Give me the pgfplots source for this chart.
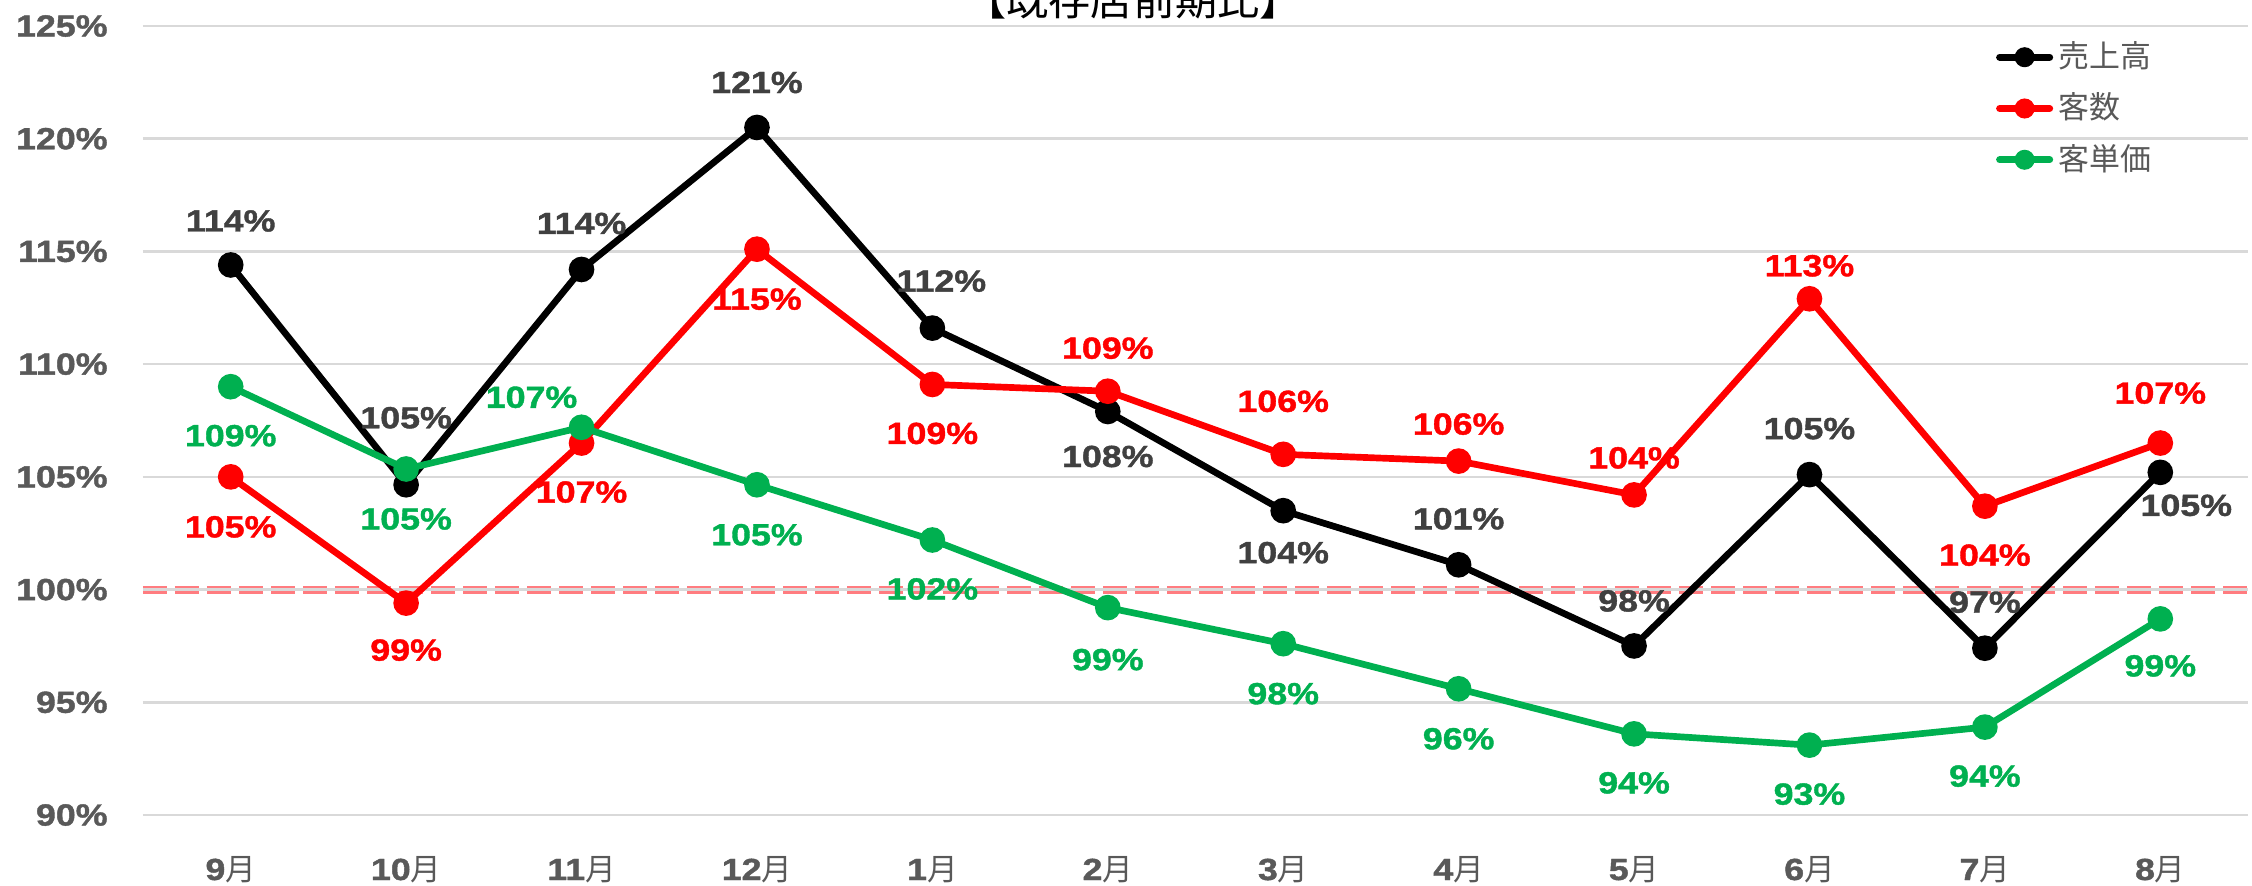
\documentclass[border=0pt]{standalone}
\usepackage{pgfplots}
\pgfplotsset{compat=1.18}
\usepackage{pgfplotstable}
\usepackage{fontspec}
\setmainfont[FakeStretch=1.17, BoldFeatures={FakeBold=1.3}]{Liberation Sans}
\newfontfamily\cjk{Noto Sans CJK JP}
\definecolor{tickgray}{HTML}{595959}
\definecolor{labgray}{HTML}{404040}
\definecolor{xlgreen}{HTML}{00B050}
\definecolor{xlred}{HTML}{FF0000}
\definecolor{gridgray}{HTML}{D9D9D9}
\definecolor{salmon}{HTML}{FF7C80}

\pgfplotsset{
  dlab/.style={
    point meta=explicit symbolic,
    nodes near coords={\pgfplotspointmeta\%},
    visualization depends on={\thisrow{dx} \as \dx},
    visualization depends on={\thisrow{dy} \as \dy},
    every node near coord/.append style={anchor=center, xshift=\dx mm, yshift=\dy mm, font=\bfseries\fontsize{8.7}{10}\selectfont, text=#1},
  }
}

% 売上高
\pgfplotstableread{
x y dx dy lab
0 114.4 0 4.4 114
1 104.65 0 6.7 105
2 114.2 0 4.6 114
3 120.5 0 4.5 121
4 111.6 0.9 4.7 112
5 107.9 0 -4.5 108
6 103.5 0 -4.2 104
7 101.1 0 4.6 101
8 97.5 0 4.5 98
9 105.1 0 4.6 105
10 97.4 0 4.6 97
11 105.2 2.6 -3.3 105
}\sales

% 客数
\pgfplotstableread{
x y dx dy lab
0 105.0 0 -5.0 105
1 99.4 0 -4.7 99
2 106.5 0 -4.9 107
3 115.1 0 -5.0 115
4 109.1 0 -4.9 109
5 108.8 0 4.3 109
6 106.0 0 5.3 106
7 105.7 0 3.7 106
8 104.2 0 3.7 104
9 112.9 0 3.3 113
10 103.7 0 -4.9 104
11 106.5 0 5.0 107
}\visitors

% 客単価
\pgfplotstableread{
x y dx dy lab
0 109.0 0 -4.9 109
1 105.35 0 -5.0 105
2 107.2 -5.0 3.0 107
3 104.65 0 -5.0 105
4 102.2 0 -4.9 102
5 99.2 0 -5.2 99
6 97.6 0 -5.0 98
7 95.6 0 -5.0 96
8 93.6 0 -4.9 94
9 93.1 0 -4.9 93
10 93.9 0 -4.9 94
11 98.7 0 -4.7 99
}\unitprice

\begin{document}
\begin{tikzpicture}
\begin{axis}[
  scale only axis,
  width=210.5mm, height=78.9mm,
  xmin=-0.5, xmax=11.5, ymin=90, ymax=125,
  ytick={90,95,...,125},
  xtick={0,...,11},
  xticklabels={9{\cjk\mdseries 月},10{\cjk\mdseries 月},11{\cjk\mdseries 月},12{\cjk\mdseries 月},1{\cjk\mdseries 月},2{\cjk\mdseries 月},3{\cjk\mdseries 月},4{\cjk\mdseries 月},5{\cjk\mdseries 月},6{\cjk\mdseries 月},7{\cjk\mdseries 月},8{\cjk\mdseries 月}},
  axis line style={draw=none},
  major tick length=0pt,
  ymajorgrids,
  grid style={gridgray, line width=0.7pt},
  clip=false,
  /pgf/number format/assume math mode=true,
  yticklabel={\pgfmathprintnumber{\tick}\%},
  ticklabel style={font=\bfseries\fontsize{8.7}{10}\selectfont, text=tickgray},
  yticklabel style={anchor=east, xshift=-2.3mm},
  xticklabel style={anchor=base, yshift=-6.5mm},
  legend style={draw=none, fill=none, inner sep=0pt,
    at={(rel axis cs:0.8800,0.9875)}, anchor=north west,
    font=\cjk\fontsize{8.8}{10}\selectfont, text=tickgray,
    row sep=1.0mm, nodes={inner sep=0.5mm}},
  legend cell align=left,
  legend image code/.code={\draw[mark repeat=2,mark phase=2,line cap=round,#1] plot coordinates {(0.3mm,0mm) (2.8mm,0mm) (5.3mm,0mm)};},
]
\addlegendimage{black, line width=2pt, mark=*, mark size=2.6pt, mark options={line width=0.5pt}}
\addlegendentry{売上高}
\addlegendimage{xlred, line width=2pt, mark=*, mark size=2.6pt, mark options={line width=0.5pt}}
\addlegendentry{客数}
\addlegendimage{xlgreen, line width=2pt, mark=*, mark size=2.6pt, mark options={line width=0.5pt}}
\addlegendentry{客単価}

\addplot[salmon, line width=2.3pt, dash pattern=on 2.4mm off 0.8mm, forget plot] coordinates {(-0.5,100) (11.5,100)};
\addplot[gridgray, line width=0.7pt, forget plot] coordinates {(-0.5,100) (11.5,100)};

\addplot[black, line width=1.9pt, mark=*, mark size=3.4pt, mark options={line width=0.5pt}, dlab=labgray, forget plot]
  table[x=x, y=y, meta=lab] {\sales};

\addplot[xlred, line width=1.9pt, mark=*, mark size=3.4pt, mark options={line width=0.5pt}, dlab=xlred, forget plot]
  table[x=x, y=y, meta=lab] {\visitors};

\addplot[xlgreen, line width=1.9pt, mark=*, mark size=3.4pt, mark options={line width=0.5pt}, dlab=xlgreen, forget plot]
  table[x=x, y=y, meta=lab] {\unitprice};

\node[font=\cjk\fontsize{12}{14}\selectfont, anchor=base, text=black] at (rel axis cs:0.4703,1) [yshift=1.1mm] {【既存店前期比】};
\end{axis}
\pgfresetboundingbox
\path[use as bounding box] (-14.3mm,-7mm) rectangle (210.9mm,81.5mm);
\end{tikzpicture}
\end{document}
